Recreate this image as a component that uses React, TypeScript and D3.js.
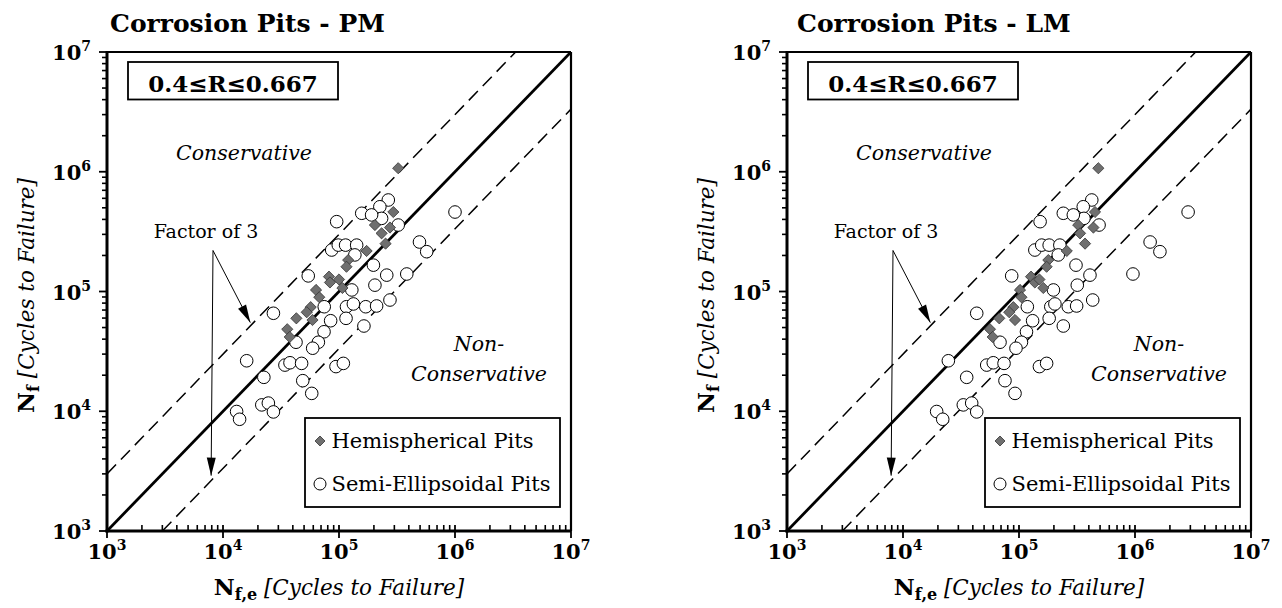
import React from 'react';
import * as d3 from 'd3';

const serif = '"DejaVu Serif", Georgia, serif';

// experimental life (Nf) vs. estimated life (Nf,e) for PM and LM models
const hemiNf = [1.07e6, 4.61e5, 3.59e5, 3.42e5, 3.06e5, 2.51e5, 2.18e5, 1.83e5, 1.61e5, 1.33e5, 1.19e5, 1.26e5, 1.07e5, 1.03e5, 8.96e4, 7.4e4, 6.71e4, 5.78e4, 5.97e4, 4.84e4, 4.17e4];
const hemiPM = [3.24e5, 2.94e5, 2.04e5, 2.75e5, 2.33e5, 2.52e5, 1.73e5, 1.2e5, 1.16e5, 8.2e4, 8.36e4, 1.0e5, 1.07e5, 6.34e4, 6.76e4, 5.7e4, 5.27e4, 5.91e4, 4.29e4, 3.58e4, 3.76e4];
const hemiLM = [4.83e5, 4.52e5, 3.24e5, 4.38e5, 3.36e5, 3.71e5, 2.58e5, 1.79e5, 1.73e5, 1.27e5, 1.37e5, 1.5e5, 1.62e5, 1.02e5, 1.05e5, 8.94e4, 8.24e4, 9.24e4, 6.76e4, 5.62e4, 5.93e4];

const semiNf = [3.83e5, 5.81e5, 4.5e5, 5.1e5, 4.08e5, 3.59e5, 4.36e5, 2.22e5, 2.44e5, 2.44e5, 2.44e5, 2.02e5, 1.66e5, 1.35e5, 1.37e5, 1.13e5, 1.03e5, 1.4e5, 2.59e5, 2.15e5, 8.49e4, 7.46e4, 7.46e4, 7.87e4, 7.46e4, 7.57e4, 5.97e4, 5.7e4, 5.15e4, 6.58e4, 4.61e4, 3.77e4, 3.77e4, 3.36e4, 2.64e4, 2.43e4, 2.54e4, 2.51e4, 2.36e4, 2.51e4, 1.92e4, 1.8e4, 1.41e4, 1.13e4, 1.17e4, 9.87e3, 9.95e3, 8.57e3, 4.61e5];
const semiPM = [9.55e4, 2.66e5, 1.57e5, 2.25e5, 2.33e5, 3.24e5, 1.91e5, 8.65e4, 9.86e4, 1.14e5, 1.42e5, 1.37e5, 1.98e5, 5.43e4, 2.58e5, 2.04e5, 1.29e5, 3.84e5, 4.94e5, 5.7e5, 2.75e5, 7.46e4, 1.16e5, 1.33e5, 1.7e5, 2.11e5, 1.15e5, 8.47e4, 1.64e5, 2.72e4, 7.43e4, 4.26e4, 6.64e4, 5.93e4, 1.6e4, 3.42e4, 3.78e4, 4.76e4, 9.42e4, 1.09e5, 2.25e4, 4.87e4, 5.82e4, 2.16e4, 2.46e4, 2.72e4, 1.31e4, 1.39e4, 1.0e6];
const semiLM = [1.52e5, 4.24e5, 2.41e5, 3.58e5, 3.63e5, 4.9e5, 2.94e5, 1.37e5, 1.57e5, 1.82e5, 2.25e5, 2.18e5, 3.1e5, 8.65e4, 4.09e5, 3.18e5, 1.98e5, 9.6e5, 1.35e6, 1.64e6, 4.32e5, 1.18e5, 1.88e5, 2.04e5, 2.66e5, 3.14e5, 1.82e5, 1.31e5, 2.41e5, 4.32e4, 1.16e5, 6.86e4, 1.05e5, 9.42e4, 2.46e4, 5.27e4, 6.0e4, 7.43e4, 1.5e5, 1.73e5, 3.54e4, 7.57e4, 9.24e4, 3.31e4, 3.91e4, 4.32e4, 1.95e4, 2.2e4, 2.87e6];

const domain = [1e3, 1e7];
const rangeLabel = '0.4≤R≤0.667';
const legendLabels = ['Hemispherical Pits', 'Semi-Ellipsoidal Pits'];
const factor = 3;
// "Factor of 3" arrows, in data units
const annotStart = [8.2e3, 2.2e5];
const annotDiag = [1.72e4, 5.5e4];
const annotDown = [7.9e3, 2.9e3];

const diamond = (cx, cy, r) => `M${cx},${cy - r}L${cx + r},${cy}L${cx},${cy + r}L${cx - r},${cy}Z`;

const arrowHead = (x1, y1, x2, y2, len = 18, w = 4.5) => {
  const a = Math.atan2(y2 - y1, x2 - x1);
  const bx = x2 - len * Math.cos(a), by = y2 - len * Math.sin(a);
  const px = -Math.sin(a) * w, py = Math.cos(a) * w;
  return `${x2},${y2} ${bx + px},${by + py} ${bx - px},${by - py}`;
};

function Panel({ x0, titleX, title, id, hemiX, semiX }) {
  const x = d3.scaleLog().domain(domain).range([x0, x0 + 464]);
  const y = d3.scaleLog().domain(domain).range([531, 52]);
  const [yb, yt] = y.range();
  const xr = x0 + 464;
  const all = x.ticks();
  const major = all.filter((v) => Math.abs(Math.log10(v) - Math.round(Math.log10(v))) < 1e-9);
  const minor = all.filter((v) => !major.includes(v));
  const exp = (v) => Math.round(Math.log10(v));

  const line = d3.line().x((d) => x(d[0])).y((d) => y(d[1]));

  const sx = x(annotStart[0]), sy = y(annotStart[1]);
  const dx = x(annotDiag[0]), dy = y(annotDiag[1]);
  const vx = x(annotDown[0]), vy = y(annotDown[1]);

  return (
    <g fontFamily={serif}>
      <text x={titleX} y={32} fontSize={25} fontWeight="bold">{title}</text>

      <clipPath id={id}>
        <rect x={x0} y={yt} width={464} height={yb - yt} />
      </clipPath>
      <g clipPath={`url(#${id})`}>
        <path d={line([[1e3, 1e3], [1e7, 1e7]])} stroke="#000" strokeWidth={2.8} fill="none" />
        <path d={line([[1e3, 1e3 * factor], [1e7 / factor, 1e7]])} stroke="#000" strokeWidth={1.5} strokeDasharray="13 7" fill="none" />
        <path d={line([[1e3 * factor, 1e3], [1e7, 1e7 / factor]])} stroke="#000" strokeWidth={1.5} strokeDasharray="13 7" fill="none" />
      </g>

      {semiX.map((v, i) => (
        <circle key={'s' + i} cx={x(v)} cy={y(semiNf[i])} r={6.3} fill="#fff" stroke="#000" strokeWidth={1} />
      ))}
      {hemiX.map((v, i) => (
        <path key={'h' + i} d={diamond(x(v), y(hemiNf[i]), 5.6)} fill="#6f6f6f" stroke="#333" strokeWidth={0.8} />
      ))}

      {/* frame and axes */}
      <line x1={x0} x2={xr} y1={yt} y2={yt} stroke="#000" strokeWidth={2.2} />
      <line x1={xr} x2={xr} y1={yt} y2={yb} stroke="#000" strokeWidth={2.2} />
      <line x1={x0} x2={x0} y1={yt - 1} y2={yb + 1.5} stroke="#000" strokeWidth={3} />
      <line x1={x0 - 1.5} x2={xr} y1={yb} y2={yb} stroke="#000" strokeWidth={3} />

      {minor.map((v) => (
        <g key={'m' + v}>
          <line x1={x(v)} x2={x(v)} y1={yb} y2={yb - 6} stroke="#000" strokeWidth={1.6} />
          <line x1={x0} x2={x0 - 5} y1={y(v)} y2={y(v)} stroke="#000" strokeWidth={1.6} />
        </g>
      ))}
      {major.map((v) => (
        <g key={'M' + v}>
          <line x1={x(v)} x2={x(v)} y1={yb - 6} y2={yb + 7} stroke="#000" strokeWidth={1.8} />
          <line x1={x0} x2={x0 - 8} y1={y(v)} y2={y(v)} stroke="#000" strokeWidth={1.8} />
          <text x={x(v)} y={559} textAnchor="middle" fontSize={21} fontWeight="bold">
            10<tspan dy={-9} fontSize={14}>{exp(v)}</tspan>
          </text>
          <text x={x0 - 16} y={y(v) + 8} textAnchor="end" fontSize={21} fontWeight="bold">
            10<tspan dy={-9} fontSize={14}>{exp(v)}</tspan>
          </text>
        </g>
      ))}

      {/* axis titles */}
      <text x={x0 + 232} y={595} textAnchor="middle" style={{ whiteSpace: 'pre' }}>
        <tspan fontWeight="bold" fontSize={23}>N</tspan>
        <tspan fontWeight="bold" fontSize={16} dy={5}>f,e</tspan>
        <tspan fontStyle="italic" fontSize={21.5} dy={-5}> [Cycles to Failure]</tspan>
      </text>
      <text transform={`translate(${x0 - 73},${(yb + yt) / 2 + 4}) rotate(-90)`} textAnchor="middle" style={{ whiteSpace: 'pre' }}>
        <tspan fontWeight="bold" fontSize={23}>N</tspan>
        <tspan fontWeight="bold" fontSize={16} dy={5}>f</tspan>
        <tspan fontStyle="italic" fontSize={21.5} dy={-5}> [Cycles to Failure]</tspan>
      </text>

      {/* R range box */}
      <rect x={x0 + 21} y={62} width={210} height={37.5} fill="#fff" stroke="#000" strokeWidth={1.8} />
      <text x={x0 + 126} y={92} textAnchor="middle" fontSize={23} fontWeight="bold">{rangeLabel}</text>

      {/* region labels */}
      <text x={x0 + 137} y={160} textAnchor="middle" fontSize={20.5} fontStyle="italic">Conservative</text>
      <text x={x0 + 372} y={351} textAnchor="middle" fontSize={20.5} fontStyle="italic">Non-</text>
      <text x={x0 + 372} y={381} textAnchor="middle" fontSize={20.5} fontStyle="italic">Conservative</text>

      {/* factor of 3 annotation */}
      <text x={x0 + 99} y={238} textAnchor="middle" fontSize={19}>Factor of 3</text>
      <line x1={sx} y1={sy} x2={dx} y2={dy} stroke="#000" strokeWidth={1} />
      <polygon points={arrowHead(sx, sy, dx, dy)} fill="#000" />
      <line x1={sx} y1={sy} x2={vx} y2={vy} stroke="#000" strokeWidth={1} />
      <polygon points={arrowHead(sx, sy, vx, vy)} fill="#000" />

      {/* legend */}
      <rect x={x0 + 198} y={418} width={255} height={89} fill="#fff" stroke="#000" strokeWidth={1.8} />
      <path d={diamond(x0 + 213, 441, 5)} fill="#6f6f6f" stroke="#333" strokeWidth={0.8} />
      <text x={x0 + 224.5} y={448} fontSize={21}>{legendLabels[0]}</text>
      <circle cx={x0 + 213} cy={484} r={6} fill="#fff" stroke="#000" strokeWidth={1} />
      <text x={x0 + 224.5} y={491} fontSize={21}>{legendLabels[1]}</text>
    </g>
  );
}

export default function App() {
  return (
    <svg width={1282} height={608} style={{ position: 'absolute', left: 0, top: 0, background: '#fff' }}>
      <Panel x0={107} titleX={110} title="Corrosion Pits - PM" id="clipPM" hemiX={hemiPM} semiX={semiPM} />
      <Panel x0={787} titleX={797} title="Corrosion Pits - LM" id="clipLM" hemiX={hemiLM} semiX={semiLM} />
    </svg>
  );
}
